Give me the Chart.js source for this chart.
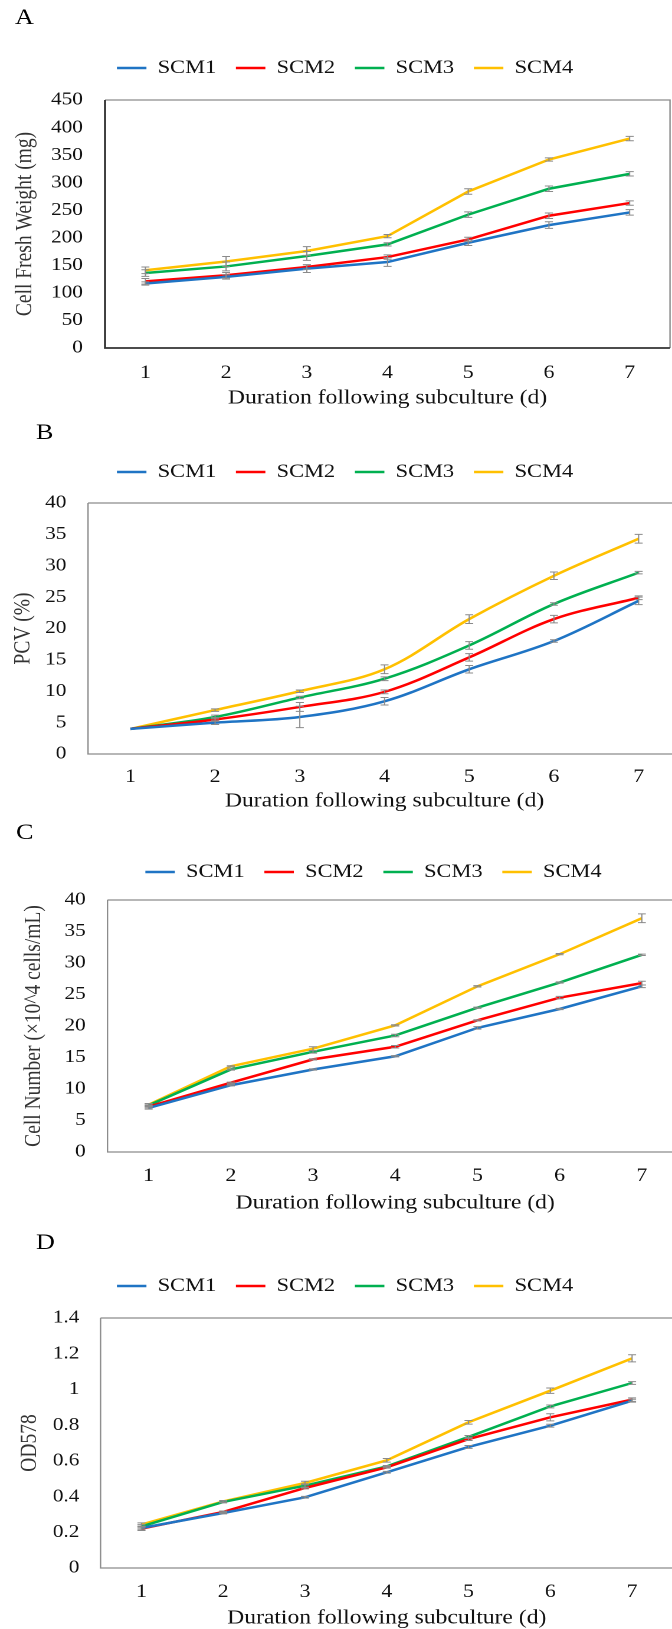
<!DOCTYPE html>
<html>
<head>
<meta charset="utf-8">
<script src="https://cdn.jsdelivr.net/npm/chart.js@4.4.1/dist/chart.umd.min.js"></script>
<style>
  html, body { margin: 0; padding: 0; background: #fff; width: 672px; height: 1629px; overflow: hidden; }
  /* the source figure is stretched sideways, so each panel is too */
  .panel { position: absolute; left: 0; width: 580px; transform-origin: 0 0; transform: scaleX(1.18); }
</style>
</head>
<body>
<div class="panel" style="top:0;height:410px"><canvas id="chartA"></canvas></div>
<div class="panel" style="top:410px;height:403px"><canvas id="chartB"></canvas></div>
<div class="panel" style="top:813px;height:402px"><canvas id="chartC"></canvas></div>
<div class="panel" style="top:1215px;height:415px"><canvas id="chartD"></canvas></div>
<script>
const days = ['1', '2', '3', '4', '5', '6', '7'];
const seriesNames = ['SCM1', 'SCM2', 'SCM3', 'SCM4'];
const seriesColors = ['#1F74C4', '#FF0000', '#00B050', '#FFC000'];

// A - cell fresh weight (mg)
const fwSCM1 = [117, 129, 144, 156, 191, 223, 246];
const fwSCM2 = [121, 132, 147, 165, 197, 240, 263];
const fwSCM3 = [136, 148, 167, 188, 242, 289, 316];
const fwSCM4 = [141, 157, 176, 203, 284, 342, 380];
const fwErr1 = [3, 4, 7, 8, 5, 6, 5];
const fwErr2 = [5, 5, 4, 4, 4, 5, 4];
const fwErr3 = [6, 8, 8, 3, 5, 5, 4];
const fwErr4 = [6, 9, 8, 3, 5, 3, 4];

// B - PCV (%)
const pcvSCM1 = [4, 5.0, 5.9, 8.4, 13.5, 18.0, 24.4];
const pcvSCM2 = [4, 5.5, 7.5, 9.9, 15.4, 21.5, 24.9];
const pcvSCM3 = [4, 5.9, 9.0, 12.0, 17.3, 23.9, 28.9];
const pcvSCM4 = [4, 7.0, 10.0, 13.5, 21.5, 28.4, 34.3];
const pcvErr1 = [0, 0.3, 1.7, 0.6, 0.6, 0.2, 0.6];
const pcvErr2 = [0, 0.3, 0.7, 0.3, 0.6, 0.6, 0.3];
const pcvErr3 = [0, 0.3, 0.2, 0.3, 0.6, 0.2, 0.2];
const pcvErr4 = [0, 0.2, 0.2, 0.7, 0.7, 0.6, 0.7];

// C - cell number (x10^4 cells/mL)
const cnSCM1 = [7.0, 10.6, 13.1, 15.2, 19.7, 22.7, 26.3];
const cnSCM2 = [7.2, 11.0, 14.7, 16.7, 20.9, 24.5, 26.8];
const cnSCM3 = [7.4, 13.1, 15.9, 18.5, 22.9, 26.9, 31.3];
const cnSCM4 = [7.5, 13.6, 16.4, 20.1, 26.3, 31.4, 37.1];
const cnErr1 = [0.2, 0.1, 0.1, 0.1, 0.2, 0.1, 0.2];
const cnErr2 = [0.2, 0.1, 0.1, 0.2, 0.1, 0.2, 0.3];
const cnErr3 = [0.2, 0.1, 0.2, 0.2, 0.1, 0.1, 0.1];
const cnErr4 = [0.2, 0.1, 0.3, 0.1, 0.1, 0.1, 0.7];

// D - OD578
const odSCM1 = [0.224, 0.308, 0.396, 0.536, 0.678, 0.797, 0.937];
const odSCM2 = [0.220, 0.314, 0.448, 0.564, 0.722, 0.844, 0.943];
const odSCM3 = [0.233, 0.370, 0.461, 0.569, 0.734, 0.905, 1.036];
const odSCM4 = [0.243, 0.373, 0.476, 0.603, 0.816, 0.993, 1.174];
const odErr1 = [0.01, 0.005, 0.005, 0.005, 0.008, 0.008, 0.008];
const odErr2 = [0.01, 0.005, 0.005, 0.005, 0.008, 0.02, 0.01];
const odErr3 = [0.01, 0.005, 0.01, 0.005, 0.008, 0.008, 0.008];
const odErr4 = [0.01, 0.005, 0.01, 0.01, 0.01, 0.015, 0.02];

Chart.defaults.font.family = "'Liberation Serif', 'Times New Roman', serif";
Chart.defaults.color = '#111';

const panels = [
  { id: 'chartA', letter: 'A', values: [fwSCM1, fwSCM2, fwSCM3, fwSCM4], errors: [fwErr1, fwErr2, fwErr3, fwErr4],
    yMax: 450, yStep: 50, yTitle: 'Cell Fresh Weight (mg)', tension: 0, dark: true,
    pad: { left: 17, right: 12.2, top: 41.8 }, yw: 72, yTickPad: 18.7, yTitlePad: -7.5, xh: 62, xTickPad: 14.2, gap: 12.5, letterAt: [12.7, 18] },
  { id: 'chartB', letter: 'B', values: [pcvSCM1, pcvSCM2, pcvSCM3, pcvSCM4], errors: [pcvErr1, pcvErr2, pcvErr3, pcvErr4],
    yMax: 40, yStep: 5, yTitle: 'PCV (%)', tension: 0.35, dark: false,
    pad: { left: 7.7, right: 2.9, top: 35.8 }, yw: 66.9, yTickPad: 18.3, yTitlePad: 0.6, xh: 59, xTickPad: 12.2, gap: 11.5, letterAt: [30.5, 23] },
  { id: 'chartC', letter: 'C', values: [cnSCM1, cnSCM2, cnSCM3, cnSCM4], errors: [cnErr1, cnErr2, cnErr3, cnErr4],
    yMax: 40, yStep: 5, yTitle: 'Cell Number (×10^4 cells/mL)', tension: 0, dark: false,
    pad: { left: 54.2, right: 1.2, top: 32.8 }, yw: 36.9, yTickPad: 18.5, yTitlePad: -36.8, xh: 63, xTickPad: 13.2, gap: 8.5, letterAt: [13.6, 20] },
  { id: 'chartD', letter: 'D', values: [odSCM1, odSCM2, odSCM3, odSCM4], errors: [odErr1, odErr2, odErr3, odErr4],
    yMax: 1.4, yStep: 0.2, yTitle: 'OD578', tension: 0, dark: false,
    pad: { left: 14.5, right: 9.7, top: 44.8 }, yw: 70.7, yTickPad: 18, yTitlePad: -0.8, xh: 62, xTickPad: 13.2, gap: 12.5, letterAt: [30.5, 28] }
];

// push the plot down a bit below the legend
function legendGap(gap) {
  return {
    id: 'legendGap',
    beforeInit(chart) {
      const fit = chart.legend.fit;
      chart.legend.fit = function () { fit.call(this); this.height += gap; };
    }
  };
}

// error bars, box around the plot and the panel letter
function decor(p) {
  return {
    id: 'decor',
    afterDatasetsDraw(chart) {
      const { ctx, scales: { x, y } } = chart;
      ctx.save();
      ctx.strokeStyle = '#8a8a8a';
      ctx.lineWidth = 1;
      p.values.forEach((vals, s) => {
        vals.forEach((v, i) => {
          const e = p.errors[s][i];
          if (!e) return;
          const px = x.getPixelForValue(i);
          const y1 = y.getPixelForValue(v - e), y2 = y.getPixelForValue(v + e);
          ctx.beginPath();
          ctx.moveTo(px, y1); ctx.lineTo(px, y2);
          ctx.moveTo(px - 3.4, y1); ctx.lineTo(px + 3.4, y1);
          ctx.moveTo(px - 3.4, y2); ctx.lineTo(px + 3.4, y2);
          ctx.stroke();
        });
      });
      ctx.restore();
    },
    afterDraw(chart) {
      const { ctx, chartArea: a } = chart;
      ctx.save();
      ctx.lineWidth = 1.2;
      ctx.strokeStyle = '#8c8c8c';
      ctx.beginPath();
      ctx.moveTo(a.left, a.top); ctx.lineTo(a.right, a.top); ctx.lineTo(a.right, a.bottom);
      ctx.stroke();
      ctx.strokeStyle = p.dark ? '#333' : '#8c8c8c';
      ctx.lineWidth = p.dark ? 1.8 : 1.2;
      ctx.beginPath();
      ctx.moveTo(a.left, a.top); ctx.lineTo(a.left, a.bottom); ctx.lineTo(a.right, a.bottom);
      ctx.stroke();
      ctx.fillStyle = '#000';
      ctx.font = "22px 'Liberation Serif', serif";
      ctx.textBaseline = 'middle';
      ctx.fillText(p.letter, p.letterAt[0], p.letterAt[1]);
      ctx.restore();
    }
  };
}

panels.forEach(p => {
  new Chart(document.getElementById(p.id), {
    type: 'line',
    data: {
      labels: days,
      datasets: p.values.map((vals, s) => ({
        label: seriesNames[s],
        data: vals,
        borderColor: seriesColors[s],
        backgroundColor: seriesColors[s],
        borderWidth: 2.5,
        pointRadius: 0,
        tension: p.tension
      }))
    },
    options: {
      responsive: true,
      maintainAspectRatio: false,
      animation: false,
      devicePixelRatio: 2,
      layout: { padding: { left: p.pad.left, right: p.pad.right, top: p.pad.top, bottom: 0 } },
      plugins: {
        legend: {
          position: 'top',
          labels: { usePointStyle: true, pointStyle: 'line', pointStyleWidth: 25, padding: 16.7, color: '#111', font: { size: 19 } }
        },
        tooltip: { enabled: false }
      },
      scales: {
        x: {
          offset: true,
          grid: { display: false, drawTicks: false },
          border: { display: false },
          ticks: { padding: p.xTickPad, color: '#111', font: { size: 18.5 } },
          title: { display: true, text: 'Duration following subculture (d)', color: '#111', font: { size: 20 }, padding: { top: 0, bottom: 0 } },
          afterFit: s => { s.height = p.xh; }
        },
        y: {
          min: 0,
          max: p.yMax,
          grid: { display: false, drawTicks: false },
          border: { display: false },
          ticks: { stepSize: p.yStep, padding: p.yTickPad, color: '#111', font: { size: 18 }, callback: v => String(+v.toFixed(2)) },
          title: { display: true, text: p.yTitle, color: '#333', font: { size: 19.5 }, padding: { top: p.yTitlePad, bottom: 0 } },
          afterFit: s => { s.width = p.yw; }
        }
      }
    },
    plugins: [legendGap(p.gap), decor(p)]
  });
});
</script>
</body>
</html>
